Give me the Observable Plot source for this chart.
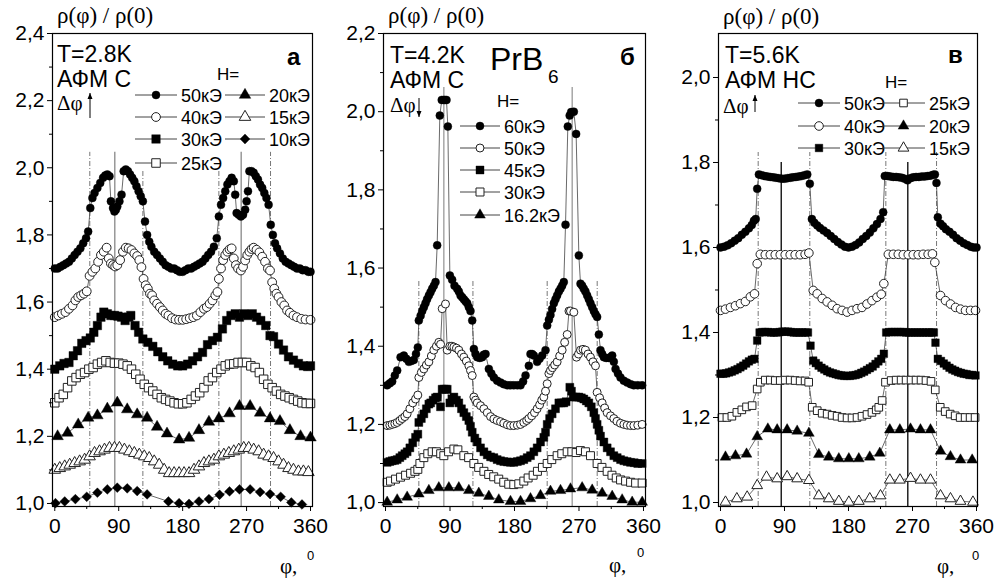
<!DOCTYPE html>
<html><head><meta charset="utf-8">
<script src="https://cdn.jsdelivr.net/npm/d3@7"></script>
<script src="https://cdn.jsdelivr.net/npm/@observablehq/plot@0.6"></script>
<style>
body{margin:0;background:#fff;}
#wrap{position:relative;width:997px;height:579px;overflow:hidden;background:#fff;}
#wrap svg{position:absolute;top:0;overflow:visible;}
</style></head><body><div id="wrap"></div>
<script>
// ---------- Panel а (T=2.8K) ----------
const a50 = [[0,1.70],[4,1.70],[8,1.705],[12,1.71],[16,1.715],[20,1.72],[24,1.73],[28,1.74],[32,1.75],[36,1.76],[40,1.775],[44,1.79],[47,1.81],[50,1.88],[53,1.91],[56,1.925],[60,1.94],[64,1.955],[68,1.97],[71,1.977],[74,1.98],[77,1.975],[79,1.90],[82,1.88],[84,1.87],[86,1.875],[88,1.885],[91,1.90],[94,1.92],[97,1.99],[100,1.995],[103,1.99],[106,1.98],[109,1.97],[112,1.96],[115,1.945],[118,1.93],[121,1.915],[124,1.90],[127,1.84],[130,1.80],[133,1.78],[136,1.765],[140,1.75],[144,1.74],[148,1.73],[152,1.72],[156,1.71],[160,1.705],[164,1.70],[168,1.70],[172,1.695],[176,1.69],[180,1.69],[184,1.695],[188,1.70],[192,1.70],[196,1.705],[200,1.71],[204,1.715],[208,1.72],[212,1.73],[216,1.74],[220,1.75],[224,1.765],[228,1.79],[231,1.855],[234,1.89],[237,1.91],[240,1.93],[243,1.95],[246,1.96],[249,1.97],[252,1.96],[254,1.92],[256,1.865],[259,1.86],[262,1.855],[265,1.86],[268,1.875],[270,1.90],[272,1.93],[274,1.99],[277,1.99],[280,1.985],[283,1.975],[286,1.965],[289,1.95],[292,1.94],[295,1.925],[298,1.91],[301,1.89],[304,1.83],[307,1.80],[310,1.775],[313,1.76],[317,1.745],[321,1.73],[325,1.72],[329,1.715],[333,1.71],[337,1.705],[341,1.70],[345,1.70],[349,1.695],[353,1.695],[357,1.69],[360,1.69]];
const a40 = [[0,1.555],[5,1.56],[10,1.565],[15,1.57],[20,1.58],[25,1.59],[29,1.605],[33,1.615],[37,1.62],[41,1.625],[45,1.632],[49,1.678],[53,1.69],[57,1.70],[61,1.72],[65,1.74],[69,1.75],[73,1.762],[76,1.73],[79,1.715],[82,1.71],[85,1.706],[88,1.71],[92,1.725],[96,1.75],[100,1.762],[104,1.76],[108,1.755],[112,1.745],[116,1.737],[119,1.725],[122,1.704],[125,1.669],[128,1.65],[131,1.64],[134,1.625],[137,1.62],[140,1.605],[144,1.595],[148,1.585],[152,1.575],[156,1.565],[160,1.56],[165,1.552],[170,1.548],[175,1.547],[180,1.547],[185,1.549],[190,1.552],[195,1.555],[200,1.56],[205,1.57],[210,1.58],[214,1.585],[218,1.595],[222,1.605],[226,1.62],[229,1.63],[231,1.669],[234,1.70],[237,1.725],[240,1.74],[243,1.75],[246,1.757],[249,1.76],[252,1.73],[255,1.71],[258,1.70],[262,1.694],[265,1.705],[268,1.724],[271,1.74],[274,1.75],[277,1.758],[280,1.762],[284,1.756],[288,1.748],[292,1.735],[296,1.72],[300,1.70],[303,1.694],[306,1.659],[309,1.64],[312,1.625],[315,1.615],[319,1.60],[323,1.59],[327,1.575],[331,1.568],[336,1.56],[341,1.555],[347,1.55],[353,1.548],[360,1.547]];
const a30 = [[0,1.40],[7,1.41],[13,1.417],[20,1.42],[26,1.44],[32,1.455],[38,1.477],[44,1.485],[50,1.493],[55,1.51],[60,1.53],[65,1.555],[69,1.57],[74,1.565],[79,1.56],[84,1.56],[89,1.558],[94,1.555],[99,1.545],[104,1.555],[107,1.56],[113,1.53],[118,1.51],[124,1.49],[131,1.48],[138,1.468],[145,1.452],[152,1.437],[159,1.425],[166,1.415],[173,1.41],[180,1.41],[187,1.415],[194,1.425],[201,1.437],[208,1.45],[215,1.473],[222,1.485],[229,1.495],[236,1.52],[242,1.545],[248,1.56],[254,1.565],[260,1.555],[266,1.565],[272,1.56],[278,1.565],[284,1.555],[290,1.545],[297,1.53],[303,1.50],[308,1.497],[315,1.475],[322,1.457],[329,1.437],[336,1.427],[343,1.417],[350,1.41],[356,1.408],[360,1.41]];
const a25 = [[0,1.30],[6,1.315],[12,1.325],[18,1.345],[24,1.365],[30,1.375],[36,1.385],[42,1.39],[48,1.40],[54,1.405],[60,1.415],[66,1.42],[72,1.425],[78,1.42],[84,1.418],[90,1.418],[96,1.415],[102,1.41],[108,1.40],[114,1.385],[120,1.37],[126,1.355],[132,1.345],[138,1.335],[144,1.325],[150,1.315],[156,1.31],[162,1.305],[168,1.30],[174,1.297],[180,1.297],[186,1.30],[192,1.31],[198,1.32],[204,1.33],[210,1.345],[216,1.365],[222,1.375],[228,1.39],[234,1.40],[240,1.41],[246,1.415],[252,1.416],[258,1.42],[264,1.42],[270,1.42],[276,1.41],[282,1.405],[288,1.39],[294,1.37],[300,1.355],[306,1.345],[312,1.335],[318,1.325],[324,1.32],[330,1.315],[336,1.31],[342,1.305],[348,1.30],[354,1.298],[360,1.298]];
const a20 = [[4,1.20],[18,1.21],[33,1.235],[47,1.255],[60,1.262],[74,1.282],[88,1.30],[102,1.28],[116,1.265],[130,1.255],[144,1.228],[158,1.208],[175,1.19],[189,1.195],[203,1.218],[217,1.243],[231,1.253],[246,1.268],[260,1.29],[275,1.29],[289,1.27],[303,1.253],[317,1.245],[331,1.218],[346,1.20],[360,1.196]];
const a15 = [[0,1.10],[7,1.105],[14,1.11],[21,1.115],[28,1.12],[35,1.125],[42,1.13],[49,1.14],[56,1.15],[63,1.155],[70,1.16],[77,1.165],[84,1.165],[91,1.165],[98,1.16],[105,1.155],[112,1.15],[119,1.145],[126,1.14],[133,1.135],[140,1.125],[147,1.115],[154,1.10],[161,1.09],[168,1.09],[175,1.09],[182,1.09],[189,1.09],[196,1.10],[203,1.11],[210,1.12],[217,1.125],[224,1.13],[231,1.14],[238,1.145],[245,1.15],[252,1.155],[259,1.16],[266,1.165],[273,1.165],[280,1.16],[287,1.155],[294,1.145],[301,1.14],[308,1.135],[315,1.125],[322,1.115],[329,1.105],[336,1.10],[343,1.095],[350,1.095],[357,1.093]];
const a10 = [[1,1.001],[14,1.006],[29,1.013],[45,1.02],[60,1.032],[74,1.042],[88,1.047],[102,1.045],[116,1.037],[130,1.027],[160,1.006],[175,1.001],[189,0.999],[203,1.006],[217,1.013],[232,1.026],[246,1.036],[260,1.042],[275,1.042],[289,1.034],[303,1.028],[318,1.02],[333,1.003],[348,0.997]];
const aSolidPhi = [84.5, 262.4];
const aDashPhi = [49.3, 124, 231, 303.7];
const aDashTop = [2.046, 1.99, 1.99, 2.046];

// ---------- Panel б (T=4.2K) ----------
const b60 = [[2.3,1.30],[6,1.305],[9.3,1.31],[13,1.325],[16.3,1.338],[21,1.372],[25.6,1.376],[29,1.368],[32.6,1.36],[36,1.362],[39.5,1.365],[42.5,1.38],[45.1,1.397],[46.5,1.466],[49,1.478],[51.2,1.49],[53.5,1.50],[55.8,1.51],[58,1.52],[60.5,1.53],[62.8,1.538],[65.1,1.547],[67.5,1.555],[69.8,1.564],[72.1,1.658],[75.8,1.99],[78.5,2.03],[81.4,2.03],[83,2.03],[85.1,2.03],[87,1.962],[89.8,1.581],[93,1.57],[96.3,1.555],[100,1.547],[102.3,1.54],[104.7,1.53],[107,1.525],[109.3,1.52],[111.6,1.515],[114,1.51],[116.3,1.50],[118.6,1.49],[121,1.466],[123.3,1.393],[125.6,1.38],[128,1.372],[131.5,1.37],[134.9,1.372],[137,1.378],[139.6,1.38],[144.2,1.342],[147.7,1.33],[151.2,1.32],[155.8,1.312],[160.5,1.307],[165,1.303],[170,1.30],[174.4,1.30],[179,1.30],[184,1.30],[188.4,1.30],[192,1.31],[195.4,1.325],[200,1.35],[202.3,1.38],[204.6,1.38],[207,1.376],[211.6,1.36],[215,1.368],[218.6,1.376],[223.3,1.39],[225.6,1.453],[228,1.468],[230.2,1.48],[232.5,1.495],[234.9,1.51],[237.2,1.52],[239.5,1.53],[241.9,1.54],[244.2,1.547],[246.5,1.555],[248.8,1.564],[251.2,1.711],[254.4,1.962],[257,1.99],[259.1,1.999],[262.8,2.0],[266,1.943],[269.8,1.632],[272.1,1.56],[274.4,1.555],[276.7,1.547],[279,1.54],[281.4,1.53],[283.7,1.52],[286,1.51],[288.4,1.50],[290.7,1.49],[293,1.482],[295.3,1.475],[297.7,1.43],[300,1.39],[302.3,1.38],[304.7,1.372],[308,1.37],[311.6,1.37],[314,1.372],[316.3,1.376],[318.6,1.36],[321,1.342],[324.4,1.33],[327.9,1.32],[332.5,1.312],[337.2,1.307],[342,1.303],[346.5,1.30],[352,1.30],[358.1,1.30]];
const b50 = [[2.3,1.197],[6,1.198],[9.3,1.20],[13,1.202],[16.3,1.205],[20,1.21],[23.3,1.215],[27,1.22],[30.2,1.227],[34,1.24],[38,1.255],[41.9,1.265],[45.1,1.275],[46.5,1.32],[50,1.333],[53.5,1.342],[57,1.352],[60.5,1.36],[64,1.375],[67.4,1.39],[71,1.40],[74.4,1.41],[76.8,1.405],[79.1,1.496],[83.7,1.508],[86.1,1.39],[89.8,1.40],[92.6,1.40],[95.4,1.398],[99,1.395],[102.3,1.39],[106,1.38],[109.3,1.372],[112.8,1.362],[116.3,1.35],[118.6,1.338],[121,1.325],[123.3,1.27],[125.6,1.262],[128,1.255],[132.6,1.248],[137.3,1.24],[142,1.23],[146.6,1.22],[151.2,1.214],[155.8,1.21],[160.5,1.207],[165,1.203],[170,1.199],[174.4,1.197],[179,1.197],[184,1.198],[188.4,1.20],[193,1.205],[197,1.21],[200,1.215],[204,1.222],[207.9,1.23],[211.6,1.24],[215,1.25],[218,1.262],[220.9,1.27],[223.3,1.285],[225.6,1.304],[228,1.33],[230.2,1.338],[233,1.345],[236,1.352],[239.5,1.36],[243,1.375],[246.5,1.39],[250,1.41],[253.5,1.43],[256,1.49],[258.1,1.49],[262.8,1.487],[266.5,1.372],[269.3,1.38],[272.1,1.39],[275.6,1.392],[279.1,1.39],[282.6,1.38],[286,1.372],[289.5,1.36],[293,1.35],[295.3,1.282],[298.8,1.268],[302.3,1.255],[305.8,1.242],[309.3,1.23],[314,1.222],[318.6,1.215],[323,1.208],[327.9,1.203],[332.6,1.20],[337.2,1.198],[342,1.197],[346.5,1.197],[352,1.198],[358.1,1.20]];
const b45 = [[2.3,1.103],[6,1.105],[9.3,1.107],[13,1.108],[16.3,1.11],[20,1.115],[23.3,1.12],[27,1.125],[30.2,1.13],[34,1.14],[38,1.153],[41.9,1.167],[45.1,1.175],[46.5,1.205],[50,1.215],[53.5,1.227],[57,1.24],[60.5,1.252],[63,1.255],[66.5,1.262],[69.8,1.268],[72.1,1.27],[76.7,1.245],[79,1.29],[81.4,1.29],[84,1.29],[86.1,1.29],[89.8,1.255],[92.6,1.265],[95.4,1.27],[99,1.262],[102.3,1.255],[106,1.24],[109.3,1.23],[112.8,1.22],[116.3,1.21],[118.6,1.195],[121,1.18],[124.6,1.165],[128,1.155],[132.6,1.14],[137.3,1.13],[142,1.122],[146.6,1.117],[151.2,1.115],[155.8,1.11],[160.5,1.107],[165.1,1.105],[170,1.104],[174.4,1.103],[179.1,1.103],[184,1.105],[188.4,1.107],[193,1.11],[197.7,1.115],[202.3,1.12],[207,1.13],[211.6,1.14],[216.3,1.155],[220.9,1.167],[223.3,1.18],[225.6,1.20],[229,1.215],[232.5,1.227],[237.2,1.24],[241.9,1.255],[245.3,1.255],[248.8,1.255],[252,1.258],[257.2,1.295],[259.5,1.285],[261.9,1.27],[265.8,1.27],[269.8,1.27],[273.3,1.268],[276.7,1.265],[280.2,1.26],[283.7,1.255],[287.2,1.245],[290.7,1.23],[293,1.215],[295.3,1.20],[297.7,1.185],[300,1.17],[304.7,1.155],[309.3,1.14],[314,1.13],[318.6,1.12],[323.3,1.115],[328,1.11],[332.6,1.107],[337.2,1.105],[341.9,1.103],[347,1.102],[352,1.10],[358.1,1.10]];
const b30 = [[2.3,1.052],[7,1.055],[14,1.06],[21,1.065],[28,1.07],[35,1.075],[41,1.08],[45.1,1.085],[48,1.10],[53.5,1.115],[59,1.125],[65.1,1.13],[71,1.13],[77,1.125],[81.4,1.12],[88,1.13],[95.4,1.137],[101,1.135],[109.3,1.12],[116,1.115],[123.3,1.10],[130,1.09],[137.3,1.08],[144,1.072],[151,1.066],[158,1.06],[165,1.052],[172,1.047],[179,1.046],[186,1.048],[193,1.055],[199,1.063],[206,1.07],[212,1.08],[219,1.09],[225.6,1.10],[232,1.11],[239.5,1.12],[246,1.125],[253.5,1.13],[260,1.13],[266,1.128],[272,1.133],[279,1.13],[286,1.12],[295.3,1.10],[302,1.09],[309.3,1.08],[316,1.07],[322,1.063],[328,1.058],[335,1.055],[342,1.052],[349,1.05],[358.1,1.05]];
const b16 = [[2.3,1.001],[16.3,1.007],[30.2,1.014],[46.5,1.022],[60.5,1.031],[74.4,1.038],[88.4,1.038],[102.3,1.038],[116.3,1.031],[130.2,1.024],[144.2,1.016],[158.1,1.007],[174.4,1.003],[188.4,1.003],[202.3,1.01],[216.3,1.018],[230.2,1.029],[244.2,1.031],[258.1,1.035],[274.4,1.038],[288.4,1.032],[302.3,1.024],[316.3,1.016],[330.2,1.007],[344.2,1.001],[358.2,1.001]];
const bSolidPhi = [81.4, 260.5];
const bDashPhi = [46.5, 122, 225.6, 295.4];
const bDashTop = [1.568, 1.568, 1.568, 1.568];

// ---------- Panel в (T=5.6K) ----------
const c50 = [[0,1.60],[5,1.602],[10,1.605],[15,1.61],[20,1.616],[25,1.622],[30,1.63],[35,1.637],[40,1.645],[44,1.653],[47,1.663],[49.5,1.667],[51.6,1.738],[54,1.772],[58,1.77],[62,1.768],[66,1.767],[70,1.766],[74,1.765],[78,1.764],[82,1.763],[86,1.762],[90,1.762],[94,1.763],[98,1.764],[102,1.765],[106,1.766],[110,1.767],[114,1.768],[118,1.77],[122,1.772],[125.6,1.75],[128.5,1.667],[132,1.658],[136,1.652],[140,1.646],[145,1.64],[150,1.634],[155,1.627],[160,1.62],[165,1.613],[170,1.607],[175,1.602],[180,1.60],[185,1.602],[190,1.606],[195,1.612],[200,1.62],[205,1.627],[210,1.635],[215,1.645],[220,1.655],[225,1.667],[228.8,1.683],[231,1.768],[235,1.768],[239,1.767],[243,1.766],[247,1.766],[251,1.765],[255,1.764],[259,1.762],[263,1.758],[267,1.763],[271,1.765],[275,1.766],[279,1.766],[283,1.767],[287,1.767],[291,1.768],[295,1.769],[299,1.771],[301.5,1.772],[303.7,1.752],[305.6,1.671],[309.4,1.656],[313,1.65],[317,1.643],[322,1.637],[327,1.63],[332,1.622],[337,1.616],[342,1.61],[347,1.606],[352,1.602],[356,1.60],[360,1.60]];
const c40 = [[0,1.452],[7,1.455],[14,1.459],[21,1.463],[28,1.468],[35,1.473],[42,1.484],[47.8,1.491],[51.6,1.562],[56,1.584],[63,1.583],[70,1.583],[77,1.583],[84,1.583],[91,1.583],[98,1.583],[105,1.583],[112,1.583],[119,1.584],[124.3,1.587],[130.4,1.499],[136,1.491],[143,1.48],[150,1.472],[157,1.464],[164,1.456],[171,1.452],[178,1.448],[185,1.452],[192,1.456],[199,1.459],[206,1.467],[213,1.475],[220,1.483],[226,1.49],[229.7,1.515],[236,1.584],[243,1.584],[250,1.584],[257,1.583],[264,1.583],[271,1.583],[278,1.583],[285,1.584],[292,1.584],[298,1.585],[301.4,1.565],[309.4,1.487],[316.4,1.475],[323.4,1.467],[330.5,1.459],[337.5,1.455],[344.5,1.452],[351.6,1.452],[358.6,1.452]];
const c30 = [[0,1.303],[4,1.303],[8,1.304],[12,1.306],[16,1.308],[20,1.311],[24,1.314],[28,1.318],[32,1.322],[36,1.327],[40,1.332],[44,1.336],[47.8,1.338],[51.6,1.381],[55,1.40],[59,1.401],[63,1.401],[67,1.401],[71,1.40],[75,1.40],[79,1.40],[83,1.401],[87,1.402],[91,1.402],[95,1.402],[99,1.401],[103,1.40],[107,1.40],[111,1.40],[115,1.40],[119,1.40],[123,1.40],[126.6,1.369],[130.4,1.334],[134,1.328],[138,1.322],[142,1.317],[146,1.313],[150,1.309],[154,1.306],[158,1.304],[162,1.302],[166,1.30],[170,1.299],[174,1.298],[178,1.298],[182,1.298],[186,1.299],[190,1.30],[194,1.302],[198,1.305],[202,1.308],[206,1.312],[210,1.316],[214,1.32],[218,1.326],[222,1.332],[226,1.338],[229.7,1.35],[233,1.40],[237,1.401],[241,1.401],[245,1.401],[249,1.401],[253,1.401],[257,1.401],[261,1.40],[265,1.40],[269,1.40],[273,1.40],[277,1.40],[281,1.40],[285,1.40],[289,1.40],[293,1.40],[297,1.40],[300,1.40],[302.3,1.376],[305.6,1.338],[310,1.333],[314,1.327],[318,1.322],[322,1.317],[326,1.313],[330,1.31],[334,1.307],[338,1.305],[342,1.303],[346,1.302],[350,1.30],[354,1.30],[358.6,1.299]];
const c25 = [[2,1.20],[9,1.20],[16,1.203],[23,1.212],[30,1.218],[36.6,1.225],[44.5,1.228],[51.6,1.267],[56,1.283],[63,1.288],[70,1.288],[77,1.287],[84,1.287],[91,1.288],[98,1.288],[105,1.287],[112,1.286],[119,1.286],[124,1.283],[129,1.224],[136,1.216],[143,1.21],[150,1.208],[157,1.205],[164,1.203],[171,1.20],[178,1.199],[185,1.199],[192,1.20],[199,1.203],[206,1.207],[213,1.212],[219,1.218],[222.6,1.224],[227.3,1.24],[232,1.283],[240,1.287],[247,1.288],[254,1.288],[261,1.288],[268,1.288],[275,1.288],[282,1.288],[289,1.287],[296,1.285],[302,1.265],[309,1.224],[316,1.214],[323,1.208],[330,1.204],[337,1.20],[344,1.20],[351,1.20],[358,1.20]];
const c20 = [[7,1.107],[21.1,1.11],[36.6,1.114],[51.6,1.155],[66.6,1.173],[79.7,1.171],[93.7,1.171],[107.8,1.168],[124.3,1.163],[138.3,1.113],[152.3,1.107],[166.4,1.103],[180.5,1.103],[194.5,1.103],[209.9,1.107],[224,1.116],[238.1,1.171],[252.2,1.171],[267.2,1.173],[281.2,1.171],[295.3,1.171],[309.4,1.121],[323.4,1.108],[337.5,1.10],[353.9,1.10]];
const c15 = [[7,1.001],[23,1.009],[37.5,1.013],[51.6,1.04],[64.7,1.06],[79.7,1.056],[93.7,1.061],[107.8,1.056],[124.3,1.052],[138.3,1.016],[152.3,1.009],[166.4,1.003],[180.5,1.001],[194.5,1.003],[209.9,1.009],[225,1.016],[238.1,1.053],[252.2,1.053],[267.2,1.057],[281.2,1.053],[295.3,1.053],[309.4,1.016],[323.4,1.009],[337.5,1.003],[355,1.001]];
const cSolidPhi = [85.4, 263.4];
const cDashPhi = [53, 125.6, 232.5, 303.8];
const cDashTop = [1.8235, 1.8235, 1.8235, 1.8235];

// tick values
const xTicks = [0, 90, 180, 270, 360];
const xMinor = [45, 135, 225, 315];
const aYTicks = [1.0, 1.2, 1.4, 1.6, 1.8, 2.0, 2.2, 2.4];
const bYTicks = [1.0, 1.2, 1.4, 1.6, 1.8, 2.0, 2.2];
const cYTicks = [1.0, 1.2, 1.4, 1.6, 1.8, 2.0];
const aYMinor = [1.1, 1.3, 1.5, 1.7, 1.9, 2.1, 2.3];
const bYMinor = [1.1, 1.3, 1.5, 1.7, 1.9, 2.1];
const cYMinor = [1.1, 1.3, 1.5, 1.7, 1.9];

const SANS = "'Liberation Sans', Arial, sans-serif";
const SERIF = "'Liberation Serif', 'Times New Roman', serif";
const fmt = d => d.toFixed(1).replace(".", ",");

const wrap = document.getElementById("wrap");

function makePanel(cfg) {
  const marks = [
    Plot.ruleX(cfg.solid, {x: d => d, y1: () => cfg.ydom[0], y2: () => cfg.solidTop, stroke: cfg.solidColor, strokeWidth: 1.3}),
    Plot.ruleX(cfg.dash, {x: d => d, y1: () => cfg.ydom[0], y2: (d, i) => cfg.dashTop[i], stroke: "#555", strokeWidth: 0.8, strokeDasharray: "5,2,1,2"})
  ];
  for (const s of cfg.series) {
    marks.push(Plot.line(s.data, {x: d => d[0], y: d => d[1], stroke: "#444", strokeWidth: 0.8}));
  }
  for (const s of cfg.series) {
    marks.push(Plot.dot(s.data, {x: d => d[0], y: d => d[1], symbol: s.symbol, r: s.r,
      fill: s.open ? "#fff" : "#000", stroke: s.open ? "#222" : "#000", strokeWidth: s.open ? 1 : 0.4}));
  }
  marks.push(
    Plot.frame({stroke: "#000", strokeWidth: 1.2}),
    Plot.axisY({ticks: cfg.yTicks, tickFormat: fmt, tickSize: 5, tickPadding: 3, fontSize: 21, label: null}),
    Plot.axisY({ticks: cfg.yMinor, tickFormat: () => "", tickSize: 3, label: null}),
    Plot.axisX({ticks: xTicks, tickFormat: d => String(d), tickSize: 5, tickPadding: 7, fontSize: 21, label: null}),
    Plot.axisX({ticks: xMinor, tickFormat: () => "", tickSize: 3, label: null})
  );
  const svg = Plot.plot({
    width: cfg.width, height: 579,
    marginLeft: cfg.ml, marginRight: cfg.mr, marginTop: 33, marginBottom: 73,
    x: {domain: cfg.xdom}, y: {domain: cfg.ydom},
    style: {fontFamily: SANS, color: "#000", background: "transparent"},
    marks
  });
  svg.style.left = cfg.left + "px";
  wrap.appendChild(svg);
  const g = d3.select(svg).append("g").attr("text-anchor", "start");
  // annotations
  const T = (x, y, s, size, opt = {}) => g.append("text").attr("x", x).attr("y", y)
    .attr("text-anchor", "start")
    .attr("font-family", opt.serif ? SERIF : SANS).attr("font-size", size)
    .attr("font-weight", opt.bold ? "bold" : "normal").attr("fill", "#000").text(s);
  cfg.texts.forEach(t => T(t.x, t.y, t.s, t.size, t));
  // arrow
  const ar = cfg.arrow;
  g.append("line").attr("x1", ar.x).attr("x2", ar.x).attr("y1", ar.y1).attr("y2", ar.y2).attr("stroke", "#000").attr("stroke-width", 1);
  const tip = ar.y2, dir = ar.y2 < ar.y1 ? 1 : -1;
  g.append("path").attr("d", `M${ar.x},${tip} L${ar.x - 2.5},${tip + dir * 6} L${ar.x + 2.5},${tip + dir * 6} Z`).attr("fill", "#000");
  // legend
  for (const it of cfg.legend) {
    const s = it.s;
    g.append("line").attr("x1", it.x1).attr("x2", it.x2).attr("y1", it.y).attr("y2", it.y).attr("stroke", "#444").attr("stroke-width", 1);
    const typ = {circle: d3.symbolCircle, square: d3.symbolSquare, triangle: d3.symbolTriangle, diamond2: d3.symbolDiamond2}[s.symbol];
    g.append("path").attr("d", d3.symbol(typ, s.r * s.r * Math.PI)())
      .attr("transform", `translate(${(it.x1 + it.x2) / 2},${it.y})`)
      .attr("fill", s.open ? "#fff" : "#000").attr("stroke", s.open ? "#222" : "#000").attr("stroke-width", s.open ? 1 : 0.4);
    T(it.x2 + 4, it.y + 6.5, s.label, 18);
  }
}

// series styles
const A = {
  s50: {data: a50, symbol: "circle", r: 4, open: false, label: "50кЭ"},
  s40: {data: a40, symbol: "circle", r: 4.4, open: true, label: "40кЭ"},
  s30: {data: a30, symbol: "square", r: 4.8, open: false, label: "30кЭ"},
  s25: {data: a25, symbol: "square", r: 4.8, open: true, label: "25кЭ"},
  s20: {data: a20, symbol: "triangle", r: 4.3, open: false, label: "20кЭ"},
  s15: {data: a15, symbol: "triangle", r: 4.3, open: true, label: "15кЭ"},
  s10: {data: a10, symbol: "diamond2", r: 4.4, open: false, label: "10кЭ"}
};
const B = {
  s60: {data: b60, symbol: "circle", r: 4, open: false, label: "60кЭ"},
  s50: {data: b50, symbol: "circle", r: 4, open: true, label: "50кЭ"},
  s45: {data: b45, symbol: "square", r: 4.5, open: false, label: "45кЭ"},
  s30: {data: b30, symbol: "square", r: 4.5, open: true, label: "30кЭ"},
  s16: {data: b16, symbol: "triangle", r: 4, open: false, label: "16.2кЭ"}
};
const C = {
  s50: {data: c50, symbol: "circle", r: 4, open: false, label: "50кЭ"},
  s40: {data: c40, symbol: "circle", r: 4.3, open: true, label: "40кЭ"},
  s30: {data: c30, symbol: "square", r: 4.3, open: false, label: "30кЭ"},
  s25: {data: c25, symbol: "square", r: 4.3, open: true, label: "25кЭ"},
  s20: {data: c20, symbol: "triangle", r: 4, open: false, label: "20кЭ"},
  s15: {data: c15, symbol: "triangle", r: 4, open: true, label: "15кЭ"}
};

makePanel({
  left: 0, width: 330, ml: 52, mr: 18, xdom: [-3.2, 362.8], ydom: [0.991, 2.4],
  yTicks: aYTicks, yMinor: aYMinor, solid: aSolidPhi, solidTop: 2.046, solidColor: "#888",
  dash: aDashPhi, dashTop: aDashTop,
  series: Object.values(A),
  texts: [
    {x: 57, y: 23, s: "ρ(φ) / ρ(0)", size: 23, serif: true},
    {x: 57, y: 62, s: "T=2.8K", size: 23},
    {x: 57, y: 87, s: "АФМ С", size: 23},
    {x: 57, y: 110, s: "Δφ", size: 21, serif: true},
    {x: 287, y: 65, s: "а", size: 24, bold: true},
    {x: 217, y: 80, s: "H=", size: 17},
    {x: 280, y: 573, s: "φ,", size: 21, serif: true},
    {x: 307, y: 560, s: "0", size: 13}
  ],
  arrow: {x: 90, y1: 118, y2: 93},
  legend: [
    {x1: 135, x2: 177, y: 95, s: A.s50}, {x1: 135, x2: 177, y: 117, s: A.s40},
    {x1: 135, x2: 177, y: 139, s: A.s30}, {x1: 135, x2: 177, y: 163, s: A.s25},
    {x1: 225, x2: 265, y: 95, s: A.s20}, {x1: 225, x2: 265, y: 117, s: A.s15},
    {x1: 225, x2: 265, y: 139, s: A.s10}
  ]
});

makePanel({
  left: 330, width: 335, ml: 53, mr: 20, xdom: [-2.8, 362.8], ydom: [0.99, 2.2],
  yTicks: bYTicks, yMinor: bYMinor, solid: bSolidPhi, solidTop: 2.062, solidColor: "#999",
  dash: bDashPhi, dashTop: bDashTop,
  series: Object.values(B),
  texts: [
    {x: 58, y: 23, s: "ρ(φ) / ρ(0)", size: 23, serif: true},
    {x: 60, y: 63, s: "T=4.2K", size: 23},
    {x: 60, y: 88, s: "АФМ С", size: 23},
    {x: 60, y: 112, s: "Δφ", size: 21, serif: true},
    {x: 160, y: 70, s: "PrB", size: 32},
    {x: 218, y: 83, s: "6", size: 19},
    {x: 290, y: 65, s: "б", size: 24, bold: true},
    {x: 167, y: 107, s: "H=", size: 17},
    {x: 279, y: 572, s: "φ,", size: 21, serif: true},
    {x: 307, y: 557, s: "0", size: 13}
  ],
  arrow: {x: 89, y1: 98, y2: 117},
  legend: [
    {x1: 130, x2: 170, y: 126, s: B.s60}, {x1: 130, x2: 170, y: 148, s: B.s50},
    {x1: 130, x2: 170, y: 170, s: B.s45}, {x1: 130, x2: 170, y: 192, s: B.s30},
    {x1: 130, x2: 170, y: 215, s: B.s16}
  ]
});

makePanel({
  left: 665, width: 332, ml: 53, mr: 20, xdom: [-2.8, 361.4], ydom: [0.9906, 2.1035],
  yTicks: cYTicks, yMinor: cYMinor, solid: cSolidPhi, solidTop: 1.80, solidColor: "#000",
  dash: cDashPhi, dashTop: cDashTop,
  series: Object.values(C),
  texts: [
    {x: 58, y: 24, s: "ρ(φ) / ρ(0)", size: 23, serif: true},
    {x: 60, y: 63, s: "T=5.6K", size: 23},
    {x: 60, y: 88, s: "АФМ НС", size: 23},
    {x: 58, y: 113, s: "Δφ", size: 21, serif: true},
    {x: 283, y: 63, s: "в", size: 24, bold: true},
    {x: 220, y: 88, s: "H=", size: 17},
    {x: 272, y: 573, s: "φ,", size: 21, serif: true},
    {x: 307, y: 560, s: "0", size: 13}
  ],
  arrow: {x: 90, y1: 112, y2: 95},
  legend: [
    {x1: 133, x2: 175, y: 103, s: C.s50}, {x1: 133, x2: 175, y: 126, s: C.s40},
    {x1: 133, x2: 175, y: 148, s: C.s30},
    {x1: 217, x2: 260, y: 103, s: C.s25}, {x1: 217, x2: 260, y: 126, s: C.s20},
    {x1: 217, x2: 260, y: 148, s: C.s15}
  ]
});
</script>
</body></html>
